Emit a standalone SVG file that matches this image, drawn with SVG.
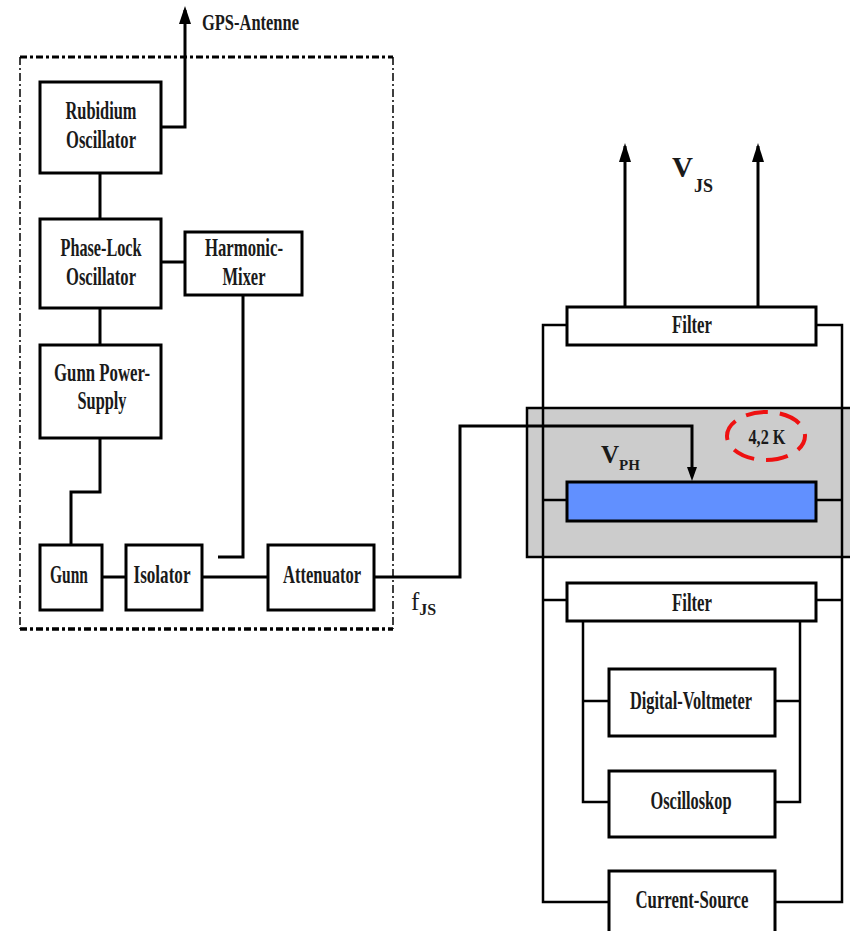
<svg xmlns="http://www.w3.org/2000/svg" width="850" height="931" viewBox="0 0 850 931">
<style>
.box{fill:#fff;stroke:#000;stroke-width:3}
.ln{fill:none;stroke:#000;stroke-width:3}
.ln2{fill:none;stroke:#000;stroke-width:2.5}
.t{font-family:"Liberation Serif","Times New Roman",serif;font-weight:bold;font-size:25px;fill:#1a1a1a}
.s{font-size:16px}
</style>
<g id="frame">
<path d="M20,57 H393" fill="none" stroke="#000" stroke-width="3" stroke-dasharray="7,3,3,3"/>
<path d="M20,629 H393" fill="none" stroke="#000" stroke-width="3.5" stroke-dasharray="7,3,3,3"/>
<path d="M20,57 V629 M393,57 V629" fill="none" stroke="#000" stroke-width="1.5" stroke-dasharray="8,3,2,3"/>
</g>
<g id="cryostat">
<rect x="527" y="408" width="330" height="149" fill="#cccccc" stroke="#000" stroke-width="2.5"/>
</g>
<g id="connectors">
<path class="ln" d="M161,127 H185 V10"/>
<path class="ln" d="M100,173 V219"/>
<path class="ln" d="M161,262 H185"/>
<path class="ln" d="M100,308 V345"/>
<path class="ln" d="M100,438 V492 H71 V545"/>
<path class="ln" d="M243,295 V557 H218"/>
<path class="ln" d="M102,577 H126"/>
<path class="ln" d="M202,577 H268"/>
<path class="ln" d="M374,577 H460 V426 H692 V470"/>
<path class="ln" d="M625,307 V146"/>
<path class="ln" d="M758,307 V146"/>
<path class="ln2" d="M567,325 H543 V902 H609"/>
<path class="ln2" d="M816,325 H842 V902 H775"/>
<path class="ln2" d="M543,500 H567 M816,500 H842"/>
<path class="ln2" d="M543,600 H567 M816,600 H842"/>
<path class="ln2" d="M583,618 V802 H609 M583,701 H609"/>
<path class="ln2" d="M800,618 V802 H775 M800,701 H775"/>
<path d="M179,24 L185,6 L191,24 Z" fill="#000"/>
<path d="M619,162 L625,143 L631,162 Z" fill="#000"/>
<path d="M752,162 L758,143 L764,162 Z" fill="#000"/>
<path d="M687,467 L692,481 L697,467 Z" fill="#000"/>
</g>
<g id="rubidium"><rect class="box" x="40" y="82" width="121" height="91"/>
<text class="t" x="101" y="119" text-anchor="middle" textLength="71" lengthAdjust="spacingAndGlyphs">Rubidium</text>
<text class="t" x="101" y="148" text-anchor="middle" textLength="70" lengthAdjust="spacingAndGlyphs">Oscillator</text></g>
<g id="gps"><text class="t" x="202" y="30" textLength="97" lengthAdjust="spacingAndGlyphs" style="font-size:23px">GPS-Antenne</text></g>
<g id="phaselock"><rect class="box" x="40" y="219" width="121" height="89"/>
<text class="t" x="101" y="256" text-anchor="middle" textLength="81" lengthAdjust="spacingAndGlyphs">Phase-Lock</text>
<text class="t" x="101" y="285" text-anchor="middle" textLength="70" lengthAdjust="spacingAndGlyphs">Oscillator</text></g>
<g id="mixer"><rect class="box" x="185" y="232" width="117" height="63"/>
<text class="t" x="244" y="256" text-anchor="middle" textLength="78" lengthAdjust="spacingAndGlyphs">Harmonic-</text>
<text class="t" x="244" y="285" text-anchor="middle" textLength="43" lengthAdjust="spacingAndGlyphs">Mixer</text></g>
<g id="gunnpower"><rect class="box" x="40" y="345" width="121" height="93"/>
<text class="t" x="102" y="381" text-anchor="middle" textLength="96" lengthAdjust="spacingAndGlyphs">Gunn Power-</text>
<text class="t" x="102" y="409" text-anchor="middle" textLength="49" lengthAdjust="spacingAndGlyphs">Supply</text></g>
<g id="gunn"><rect class="box" x="40" y="545" width="62" height="65"/>
<text class="t" x="69" y="583" text-anchor="middle" textLength="38" lengthAdjust="spacingAndGlyphs">Gunn</text></g>
<g id="isolator"><rect class="box" x="126" y="545" width="76" height="65"/>
<text class="t" x="162" y="583" text-anchor="middle" textLength="57" lengthAdjust="spacingAndGlyphs">Isolator</text></g>
<g id="attenuator"><rect class="box" x="268" y="545" width="106" height="65"/>
<text class="t" x="322" y="583" text-anchor="middle" textLength="78" lengthAdjust="spacingAndGlyphs">Attenuator</text></g>
<g id="fjs"><text class="t" x="411" y="610" style="font-weight:normal">f<tspan class="s" dy="5" style="font-weight:bold">JS</tspan></text></g>
<g id="vjs"><text class="t" x="672" y="177" style="font-size:29px">V<tspan dx="1" dy="15" style="font-size:18px">JS</tspan></text></g>
<g id="filter1"><rect class="box" x="567" y="307" width="249" height="38"/>
<text class="t" x="692" y="333" text-anchor="middle" textLength="40" lengthAdjust="spacingAndGlyphs">Filter</text></g>
<g id="junction"><rect x="567" y="482" width="249" height="39" fill="#6190ff" stroke="#000" stroke-width="3"/></g>
<g id="vph"><text class="t" x="601" y="463">V<tspan dy="7" style="font-size:15px">PH</tspan></text></g>
<g id="temp"><ellipse cx="766" cy="436" rx="39" ry="24" fill="none" stroke="#ee1111" stroke-width="4" stroke-dasharray="22,12" stroke-dashoffset="6"/>
<text class="t" x="767" y="444" text-anchor="middle" textLength="37" lengthAdjust="spacingAndGlyphs" style="font-size:21px">4,2 K</text></g>
<g id="filter2"><rect class="box" x="567" y="583" width="249" height="38"/>
<text class="t" x="692" y="611" text-anchor="middle" textLength="40" lengthAdjust="spacingAndGlyphs">Filter</text></g>
<g id="voltmeter"><rect class="box" x="609" y="669" width="166" height="67"/>
<text class="t" x="691" y="709" text-anchor="middle" textLength="122" lengthAdjust="spacingAndGlyphs">Digital-Voltmeter</text></g>
<g id="oscilloskop"><rect class="box" x="609" y="771" width="166" height="66"/>
<text class="t" x="691" y="809" text-anchor="middle" textLength="81" lengthAdjust="spacingAndGlyphs">Oscilloskop</text></g>
<g id="current"><rect class="box" x="609" y="871" width="166" height="70"/>
<text class="t" x="692" y="908" text-anchor="middle" textLength="113" lengthAdjust="spacingAndGlyphs">Current-Source</text></g>
</svg>
